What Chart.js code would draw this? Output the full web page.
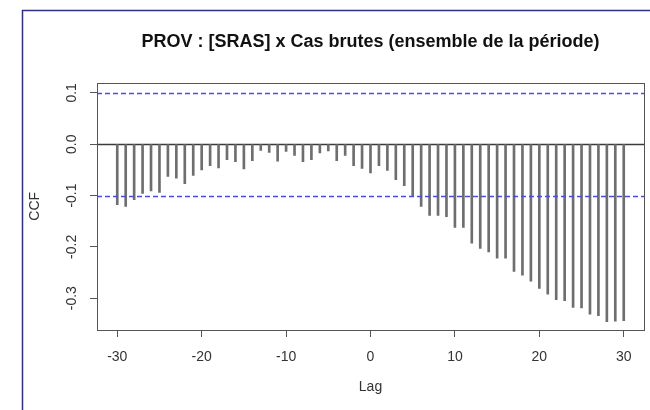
<!DOCTYPE html>
<html>
<head>
<meta charset="utf-8">
<script src="https://cdn.jsdelivr.net/npm/chart.js@4/dist/chart.umd.min.js"></script>
<style>
  html, body { margin: 0; padding: 0; background: #ffffff; }
  #wrap { width: 650px; height: 410px; position: relative; }
</style>
</head>
<body>
<div id="wrap"><canvas id="ccfChart" width="650" height="410"></canvas></div>
<script>
// Cross-correlation of PROV [SRAS] against raw case counts, lags -30..30
const lags = [
  -30, -29, -28, -27, -26, -25, -24, -23, -22, -21,
  -20, -19, -18, -17, -16, -15, -14, -13, -12, -11,
  -10, -9, -8, -7, -6, -5, -4, -3, -2, -1,
  0, 1, 2, 3, 4, 5, 6, 7, 8, 9,
  10, 11, 12, 13, 14, 15, 16, 17, 18, 19,
  20, 21, 22, 23, 24, 25, 26, 27, 28, 29, 30
];
const ccfValues = [
  -0.118, -0.121, -0.108, -0.096, -0.091, -0.094, -0.063, -0.066, -0.077, -0.061,
  -0.050, -0.042, -0.046, -0.030, -0.034, -0.048, -0.032, -0.012, -0.016, -0.033,
  -0.014, -0.022, -0.034, -0.030, -0.017, -0.013, -0.032, -0.022, -0.042, -0.047,
  -0.056, -0.042, -0.051, -0.069, -0.081, -0.102, -0.121, -0.139, -0.139, -0.141,
  -0.162, -0.162, -0.193, -0.203, -0.210, -0.222, -0.222, -0.248, -0.255, -0.267,
  -0.281, -0.292, -0.303, -0.305, -0.318, -0.319, -0.331, -0.334, -0.346, -0.345, -0.344
];
// 95% significance bound (drawn at +/- this level)
const ciLevel = 0.1;

const xTickValues = [-30, -20, -10, 0, 10, 20, 30];
const xTickLabels = ['-30', '-20', '-10', '0', '10', '20', '30'];
const yTickValues = [0.1, 0.0, -0.1, -0.2, -0.3];
const yTickLabels = ['0.1', '0.0', '-0.1', '-0.2', '-0.3'];

const titleText = 'PROV : [SRAS] x Cas brutes (ensemble de la période)';
const xAxisTitle = 'Lag';
const yAxisTitle = 'CCF';

const FONT = 'Liberation Sans, Arial, sans-serif';
const INK = '#333333';
const AXIS = '#555555';

// Plot box, zero line, significance bounds and outer frame
const referenceLines = {
  id: 'referenceLines',
  beforeDatasetsDraw(chart) {
    const { ctx, chartArea: a, scales: { y } } = chart;
    ctx.save();
    const y0 = Math.round(y.getPixelForValue(0)) + 0.5;
    ctx.strokeStyle = '#3a3a3a';
    ctx.lineWidth = 1.3;
    ctx.beginPath();
    ctx.moveTo(a.left, y0);
    ctx.lineTo(a.right, y0);
    ctx.stroke();
    ctx.restore();
  },
  afterDatasetsDraw(chart) {
    const { ctx, chartArea: a, scales: { y } } = chart;
    ctx.save();
    ctx.strokeStyle = '#4a4ae6';
    ctx.lineWidth = 1.4;
    ctx.setLineDash([5, 3]);
    [ciLevel, -ciLevel].forEach(v => {
      const py = Math.round(y.getPixelForValue(v)) + 0.5;
      ctx.beginPath();
      ctx.moveTo(a.left, py);
      ctx.lineTo(a.right, py);
      ctx.stroke();
    });
    ctx.setLineDash([]);
    // plot box
    ctx.strokeStyle = AXIS;
    ctx.lineWidth = 1;
    ctx.strokeRect(Math.round(a.left) + 0.5, Math.round(a.top) + 0.5,
                   Math.round(a.right - a.left), Math.round(a.bottom - a.top));
    ctx.restore();
  },
  afterDraw(chart) {
    const { ctx } = chart;
    ctx.save();
    // window frame
    ctx.strokeStyle = '#2e2e82';
    ctx.lineWidth = 1.5;
    ctx.beginPath();
    ctx.moveTo(22.5, 410);
    ctx.lineTo(22.5, 10.5);
    ctx.lineTo(650, 10.5);
    ctx.stroke();
    ctx.restore();
  }
};

new Chart(document.getElementById('ccfChart'), {
  type: 'bar',
  data: {
    datasets: [{
      data: lags.map((l, i) => ({ x: l, y: ccfValues[i] })),
      backgroundColor: '#6e6e6e',
      borderWidth: 0,
      barThickness: 2
    }]
  },
  options: {
    responsive: false,
    animation: false,
    devicePixelRatio: 1,
    layout: { padding: { left: 0, right: 6, top: 0, bottom: 0 } },
    plugins: {
      legend: { display: false },
      tooltip: { enabled: false },
      title: {
        display: true,
        text: titleText,
        fullSize: false,
        color: '#111111',
        font: { family: FONT, size: 18, weight: 'bold' },
        padding: { top: 31, bottom: 30 }
      }
    },
    scales: {
      x: {
        type: 'linear',
        min: -32.4,
        max: 32.4,
        offset: false,
        afterBuildTicks: s => { s.ticks = xTickValues.map(v => ({ value: v })); },
        afterFit: s => { s.height = 80; },
        ticks: {
          autoSkip: false,
          maxRotation: 0,
          padding: 12,
          color: INK,
          font: { family: FONT, size: 14 },
          callback: (v, i) => xTickLabels[i]
        },
        grid: { offset: false, drawOnChartArea: false, tickLength: 7, color: AXIS, lineWidth: 1 },
        border: { display: false },
        title: {
          display: true,
          text: xAxisTitle,
          color: INK,
          font: { family: FONT, size: 14 },
          padding: { top: 0, bottom: 14 }
        }
      },
      y: {
        type: 'linear',
        min: -0.362,
        max: 0.120,
        afterBuildTicks: s => { s.ticks = yTickValues.map(v => ({ value: v })); },
        afterFit: s => { s.width = 97; },
        ticks: {
          autoSkip: false,
          minRotation: 90,
          maxRotation: 90,
          crossAlign: 'center',
          padding: 6,
          color: INK,
          font: { family: FONT, size: 14 },
          callback: (v, i) => yTickLabels[i]
        },
        grid: { drawOnChartArea: false, tickLength: 7, color: AXIS, lineWidth: 1 },
        border: { display: false },
        title: {
          display: true,
          text: yAxisTitle,
          color: INK,
          font: { family: FONT, size: 14 },
          padding: { top: 27, bottom: 0 }
        }
      }
    }
  },
  plugins: [referenceLines]
});
</script>
</body>
</html>
